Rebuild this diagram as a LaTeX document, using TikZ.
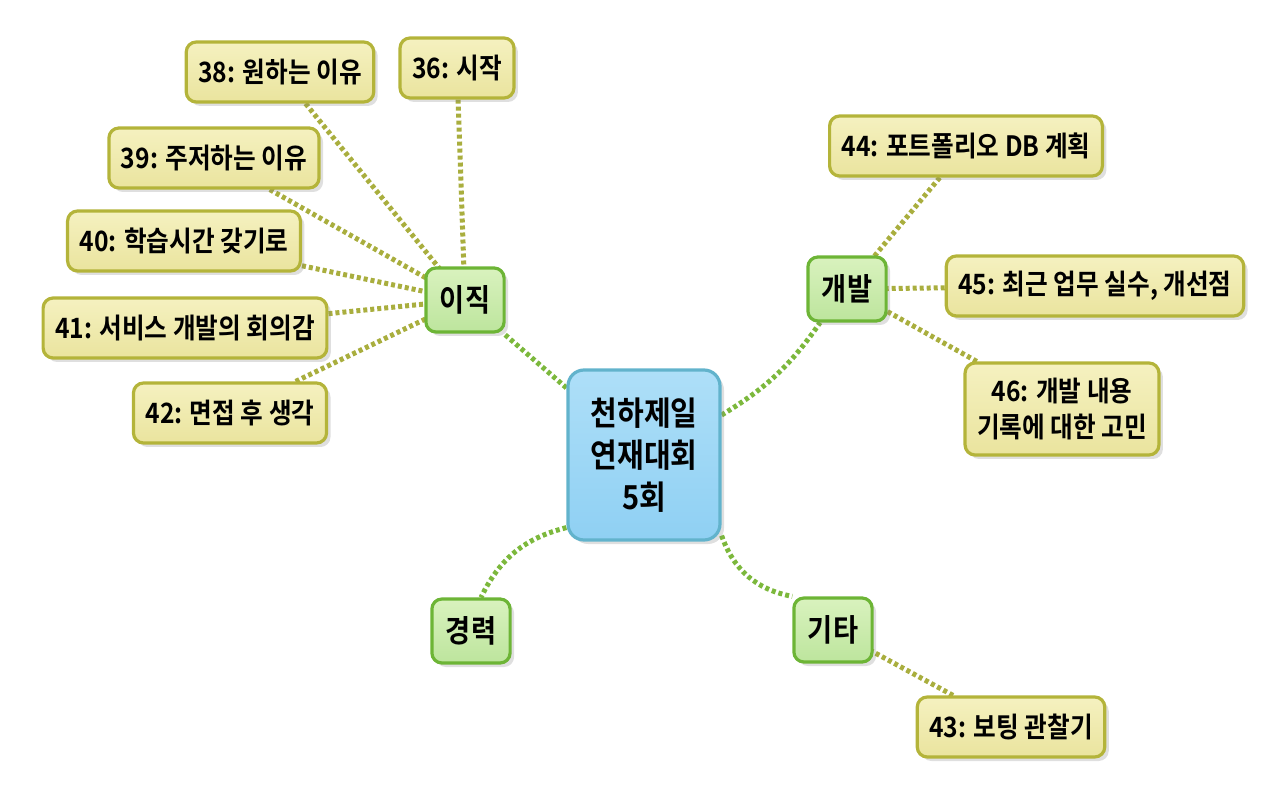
\documentclass[tikz,border=0pt]{standalone}
\usepackage{fontspec}
\newfontfamily\krfont{Noto Sans CJK KR Bold}[FakeStretch=0.88]
\usetikzlibrary{shadows,backgrounds}
\definecolor{hubtop}{HTML}{AEDFF8}
\definecolor{hubbot}{HTML}{8FD0F3}
\definecolor{hubdraw}{HTML}{62B3CC}
\definecolor{topictop}{HTML}{D9F2BE}
\definecolor{topicbot}{HTML}{BDE59D}
\definecolor{topicdraw}{HTML}{6DB536}
\definecolor{leaftop}{HTML}{F5F1C0}
\definecolor{leafbot}{HTML}{EAE49E}
\definecolor{leafdraw}{HTML}{B4B43A}
\definecolor{linkgreen}{HTML}{7CB83C}
\definecolor{linkolive}{HTML}{A9AE3E}
\begin{document}
\begin{tikzpicture}[x=0.5pt, y=-0.5pt, line join=round,
	box/.style={rounded corners=5pt, line width=1.6pt, align=center,
		drop shadow={shadow xshift=2pt, shadow yshift=-2pt, opacity=0.25}},
	hub/.style={box, draw=hubdraw, top color=hubtop, bottom color=hubbot, rounded corners=8pt,
		minimum width=76pt, minimum height=85pt, font=\krfont\fontsize{16.5}{21}\selectfont},
	topic/.style={box, draw=topicdraw, top color=topictop, bottom color=topicbot,
		minimum height=32pt, inner xsep=7pt, font=\krfont\fontsize{15.5}{18}\selectfont},
	leaf/.style={box, draw=leafdraw, top color=leaftop, bottom color=leafbot,
		minimum height=30pt, inner xsep=6pt, font=\krfont\fontsize{14}{18}\selectfont},
	mainlink/.style={draw=linkgreen, line width=2.5pt, dash pattern=on 2pt off 1.5pt},
	leaflink/.style={mainlink, draw=linkolive}]
	\useasboundingbox (0,0) rectangle (1280,796);
	% center and topics
	\node[hub] (hub) at (644,455) {천하제일\\연재대회\\5회};
	\node[topic] (move) at (465,300) {이직};
	\node[topic] (dev) at (847,289) {개발};
	\node[topic] (career) at (471,631) {경력};
	\node[topic] (etc) at (833,630) {기타};
	% leaves
	\node[leaf] (l36) at (457,68) {36: 시작};
	\node[leaf] (l38) at (280,72) {38: 원하는 이유};
	\node[leaf] (l39) at (214,158) {39: 주저하는 이유};
	\node[leaf] (l40) at (184,241) {40: 학습시간 갖기로};
	\node[leaf] (l41) at (185,328) {41: 서비스 개발의 회의감};
	\node[leaf] (l42) at (230,413) {42: 면접 후 생각};
	\node[leaf] (l43) at (1011,727) {43: 보팅 관찰기};
	\node[leaf] (l44) at (966,146) {44: 포트폴리오 DB 계획};
	\node[leaf] (l45) at (1095,286) {45: 최근 업무 실수, 개선점};
	\node[leaf, minimum height=46pt] (l46) at (1062,409) {46: 개발 내용\\기록에 대한 고민};
	\begin{scope}[on background layer]
		\draw[mainlink] (hub) -- (move);
		\draw[mainlink] (hub) to[bend right=12] (dev);
		\draw[mainlink] ([yshift=7pt]hub.south west) to[bend right=25] ([xshift=5pt]career.north);
		\draw[mainlink] ([yshift=3pt]hub.south east) to[bend right=30] (etc.north west);
		\foreach \l in {l36,l38,l39,l40,l41,l42}
			\draw[leaflink] (\l) -- (move.center);
		\foreach \l in {l44,l45,l46}
			\draw[leaflink] (\l) -- (dev.center);
		\draw[leaflink] (l43) -- (etc.center);
	\end{scope}
\end{tikzpicture}
\end{document}
